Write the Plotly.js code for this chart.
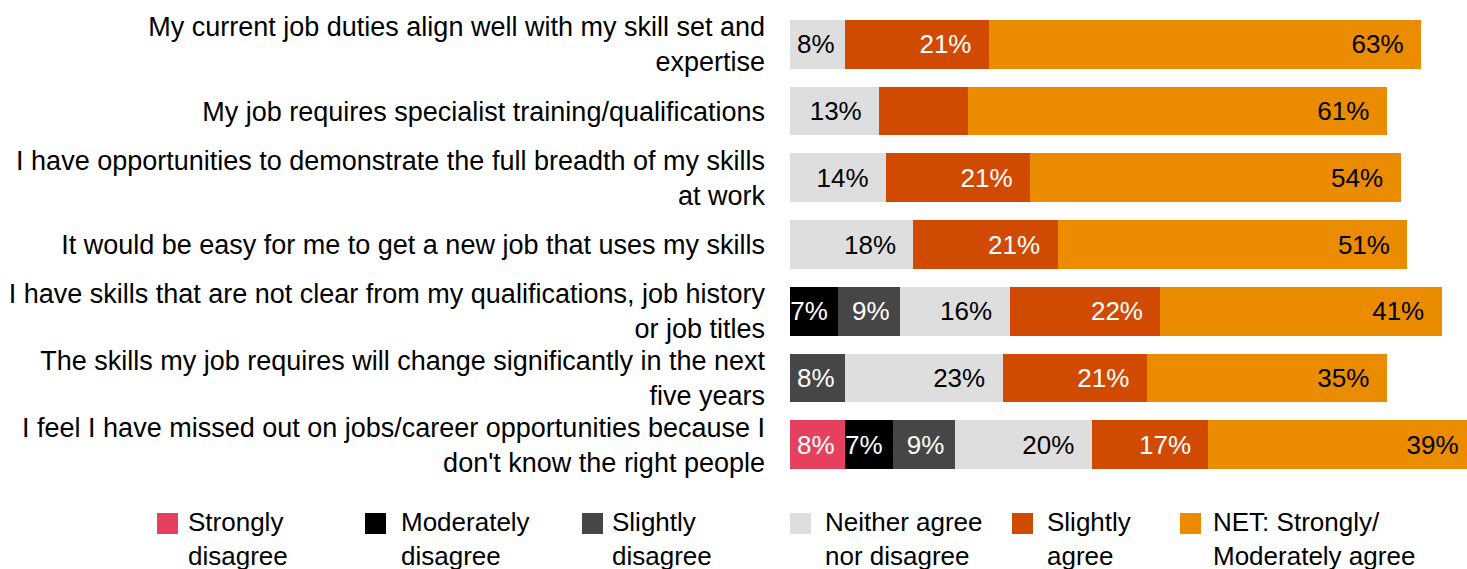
<!DOCTYPE html>
<html>
<head>
<meta charset="utf-8">
<script src="https://cdn.plot.ly/plotly-3.0.1.min.js"></script>
<style>
  html, body { margin: 0; padding: 0; background: #fff; }
  #chart { width: 1467px; height: 569px; }
</style>
</head>
<body>
<div id="chart"></div>
<script>
// Survey statements, top to bottom
const statements = [
  "My current job duties align well with my skill set and<br>expertise",
  "My job requires specialist training/qualifications",
  "I have opportunities to demonstrate the full breadth of my skills<br>at work",
  "It would be easy for me to get a new job that uses my skills",
  "I have skills that are not clear from my qualifications, job history<br>or job titles",
  "The skills my job requires will change significantly in the next<br>five years",
  "I feel I have missed out on jobs/career opportunities because I<br>don't know the right people"
];

// Response shares (%) per statement; null = not shown
const stronglyDisagree   = [null, null, null, null, null, null, 8];
const moderatelyDisagree = [null, null, null, null, 7,    null, 7];
const slightlyDisagree   = [null, null, null, null, 9,    8,    9];
const neitherAgree       = [8,    13,   14,   18,   16,   23,   20];
const slightlyAgree      = [21,   13,   21,   21,   22,   21,   17];
const netAgree           = [63,   61,   54,   51,   41,   35,   39];

// Bars that carry no value label
const slightlyAgreeHideLabel = [false, true, false, false, false, false, false];

const seriesNames = [
  "Strongly<br>disagree",
  "Moderately<br>disagree",
  "Slightly<br>disagree",
  "Neither agree<br>nor disagree",
  "Slightly<br>agree",
  "NET: Strongly/<br>Moderately agree"
];
const seriesColors = ["#E5415E", "#000000", "#464646", "#DEDEDE", "#D04A02", "#EB8C00"];
const labelColors  = ["#ffffff", "#ffffff", "#ffffff", "#000000", "#ffffff", "#000000"];

const FONT = "Liberation Sans, Arial, Helvetica, sans-serif";
const FS = 26;       // value labels and legend
const FS_CAT = 27;   // statement labels

function labelFor(v, hide) {
  if (v === null || v === undefined || hide) return "";
  // right-hand breathing room inside the bar end
  return v + "%" + (v >= 10 ? "\u00a0\u00a0" : "\u00a0");
}

const allSeries = [stronglyDisagree, moderatelyDisagree, slightlyDisagree, neitherAgree, slightlyAgree, netAgree];

const traces = allSeries.map((vals, i) => ({
  type: "bar",
  orientation: "h",
  name: seriesNames[i],
  y: statements,
  x: vals,
  marker: { color: seriesColors[i], line: { width: 0 } },
  text: vals.map((v, k) => labelFor(v, i === 4 && slightlyAgreeHideLabel[k])),
  texttemplate: "%{text}",
  textposition: "inside",
  insidetextanchor: "end",
  constraintext: "none",
  textangle: 0,
  textfont: { family: FONT, size: FS, color: labelColors[i] },
  insidetextfont: { family: FONT, size: FS, color: labelColors[i] },
  hoverinfo: "skip",
  showlegend: false
}));

// Plot-area geometry (pixels) used to place the custom legend
const W = 1467, H = 569;
const M = { l: 790, r: 0, t: 11, b: 91 };
const plotW = W - M.l - M.r, plotH = H - M.t - M.b;
const px = x => (x - M.l) / plotW;
const py = y => (H - M.b - y) / plotH;

const legendSquareX = [157, 365, 582, 790, 1012, 1180];
const legendTextX   = [186, 399, 610, 823, 1045, 1211];
const shapes = seriesColors.map((c, i) => ({
  type: "rect", xref: "paper", yref: "paper",
  x0: px(legendSquareX[i]), x1: px(legendSquareX[i] + 21),
  y0: py(534), y1: py(513),
  fillcolor: c, line: { width: 0 }
}));
const annotations = seriesNames.map((n, i) => ({
  xref: "paper", yref: "paper",
  x: px(legendTextX[i]), y: py(505),
  xanchor: "left", yanchor: "top", align: "left",
  showarrow: false, text: n,
  font: { family: FONT, size: FS, color: "#000" }
}));

const layout = {
  width: W, height: H,
  margin: M,
  barmode: "stack",
  bargap: 0.27,
  paper_bgcolor: "#fff",
  plot_bgcolor: "#fff",
  showlegend: false,
  font: { family: FONT, size: FS, color: "#000" },
  xaxis: {
    range: [0, plotW / 6.86],
    showgrid: false, zeroline: false, showticklabels: false, showline: false, ticks: ""
  },
  yaxis: {
    autorange: "reversed",
    type: "category",
    showgrid: false, zeroline: false, showline: false,
    ticks: "", ticklabelstandoff: 24,
    automargin: false,
    tickfont: { family: FONT, size: FS_CAT, color: "#000" }
  },
  shapes: shapes,
  annotations: annotations
};

Plotly.newPlot("chart", traces, layout, { displayModeBar: false, staticPlot: true });
</script>
</body>
</html>
